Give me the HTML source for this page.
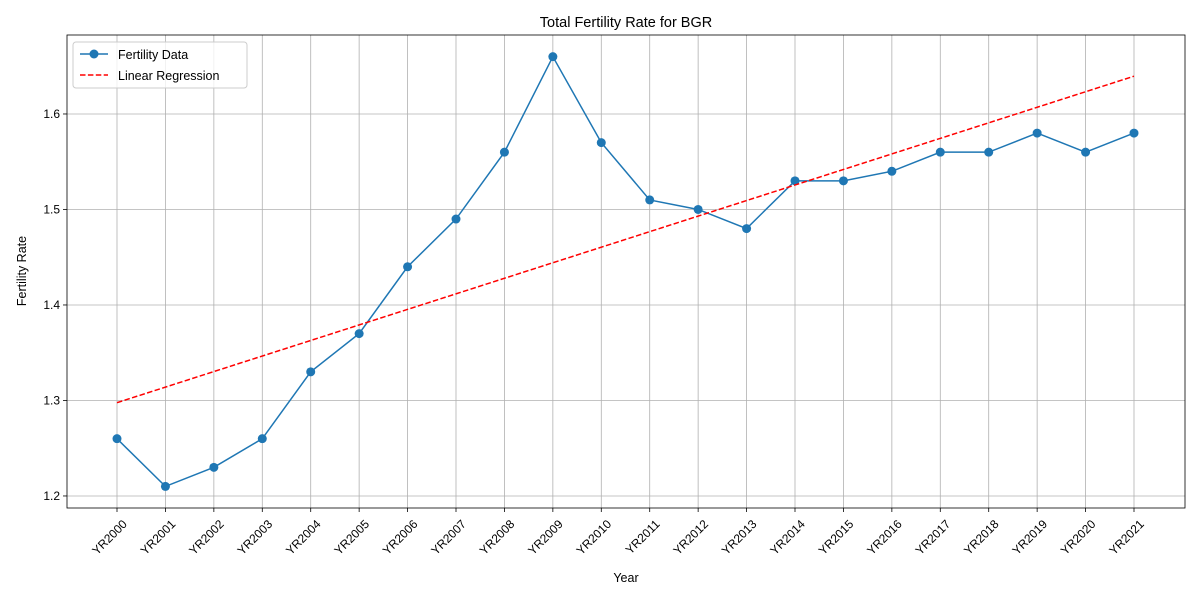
<!DOCTYPE html>
<html><head><meta charset="utf-8"><style>body{margin:0;background:#fff}svg{font-family:"Liberation Sans","DejaVu Sans",sans-serif}</style></head>
<body>
<svg id="chart" width="1200" height="600" xmlns="http://www.w3.org/2000/svg"></svg>
<script>
const categories=["YR2000","YR2001","YR2002","YR2003","YR2004","YR2005","YR2006","YR2007","YR2008","YR2009","YR2010","YR2011","YR2012","YR2013","YR2014","YR2015","YR2016","YR2017","YR2018","YR2019","YR2020","YR2021"];
const fertility=[1.26,1.21,1.23,1.26,1.33,1.37,1.44,1.49,1.56,1.66,1.57,1.51,1.50,1.48,1.53,1.53,1.54,1.56,1.56,1.58,1.56,1.58];
const yTicks=[1.2,1.3,1.4,1.5,1.6];
const L=67,R=1185,T=35,B=508;
const yMin=1.1874,yMax=1.6827;
const x0=117,x1=1134;
const X=i=>x0+(x1-x0)*i/(categories.length-1);
const Y=v=>B-(v-yMin)/(yMax-yMin)*(B-T);
const svg=document.getElementById('chart');
const NS="http://www.w3.org/2000/svg";
function mk(t,a,txt){const e=document.createElementNS(NS,t);for(const k in a)e.setAttribute(k,a[k]);if(txt!=null)e.textContent=txt;svg.appendChild(e);return e;}
// grid
categories.forEach((c,i)=>{
 const g=mk('line',{x1:X(i),x2:X(i),y1:T,y2:B,stroke:'#b0b0b0','stroke-width':0.8});
 
 
 const tk=mk('line',{x1:X(i),x2:X(i),y1:B,y2:B+4,stroke:'#000','stroke-width':0.8});
 
 
 const t=mk('text',{x:X(i)+4,y:B+10,'font-size':12,'text-anchor':'end',transform:`rotate(-45 ${X(i)+4} ${B+10})`,dy:'0.8em'},c);
 
 
});
yTicks.forEach(v=>{
 const g=mk('line',{x1:L,x2:R,y1:Y(v),y2:Y(v),stroke:'#b0b0b0','stroke-width':0.8});
 
 
 const tk=mk('line',{x1:L-4,x2:L,y1:Y(v),y2:Y(v),stroke:'#000','stroke-width':0.8});
 
 
 const t=mk('text',{x:L-7,y:Y(v)+4,'font-size':12,'text-anchor':'end'},v.toFixed(1));
 
 
});
// regression
const n=fertility.length;let sx=0,sy=0,sxy=0,sxx=0;
fertility.forEach((v,i)=>{sx+=i;sy+=v;sxy+=i*v;sxx+=i*i;});
const slope=(n*sxy-sx*sy)/(n*sxx-sx*sx),icpt=(sy-slope*sx)/n;
// data line
const line=mk('polyline',{points:fertility.map((v,i)=>X(i)+','+Y(v)).join(' '),fill:'none',stroke:'#1f77b4','stroke-width':1.5});


fertility.forEach((v,i)=>{
 const c=mk('circle',{cx:X(i),cy:Y(v),r:4.5,fill:'#1f77b4'});
 
 
});
const reg=mk('line',{x1:X(0),y1:Y(icpt),x2:X(n-1),y2:Y(icpt+slope*(n-1)),stroke:'#ff0000','stroke-width':1.5,'stroke-dasharray':'5.5,2.4'});


const frame=mk('rect',{x:L,y:T,width:R-L,height:B-T,fill:'none',stroke:'#000','stroke-width':0.8});


</script>
<svg style="position:absolute;left:0;top:0" width="1200" height="600">
<text x="626" y="27" font-size="14.5" text-anchor="middle">Total Fertility Rate for BGR</text>
<text x="626" y="582" font-size="12.5" text-anchor="middle">Year</text>
<text x="26" y="271" font-size="12.5" text-anchor="middle" transform="rotate(-90 26 271)">Fertility Rate</text>
<g>
<rect x="73" y="42" width="174" height="46" rx="3" fill="#fff" fill-opacity="0.8" stroke="#ccc"/>
<line x1="80" x2="108" y1="54" y2="54" stroke="#1f77b4" stroke-width="1.5"/>
<circle cx="94" cy="54" r="4.5" fill="#1f77b4"/>
<text x="118" y="59" font-size="12.5">Fertility Data</text>
<line x1="80" x2="108" y1="75" y2="75" stroke="#ff0000" stroke-width="1.5" stroke-dasharray="5.5,2.4"/>
<text x="118" y="80" font-size="12.5">Linear Regression</text>
</g>
</svg>
</body></html>
